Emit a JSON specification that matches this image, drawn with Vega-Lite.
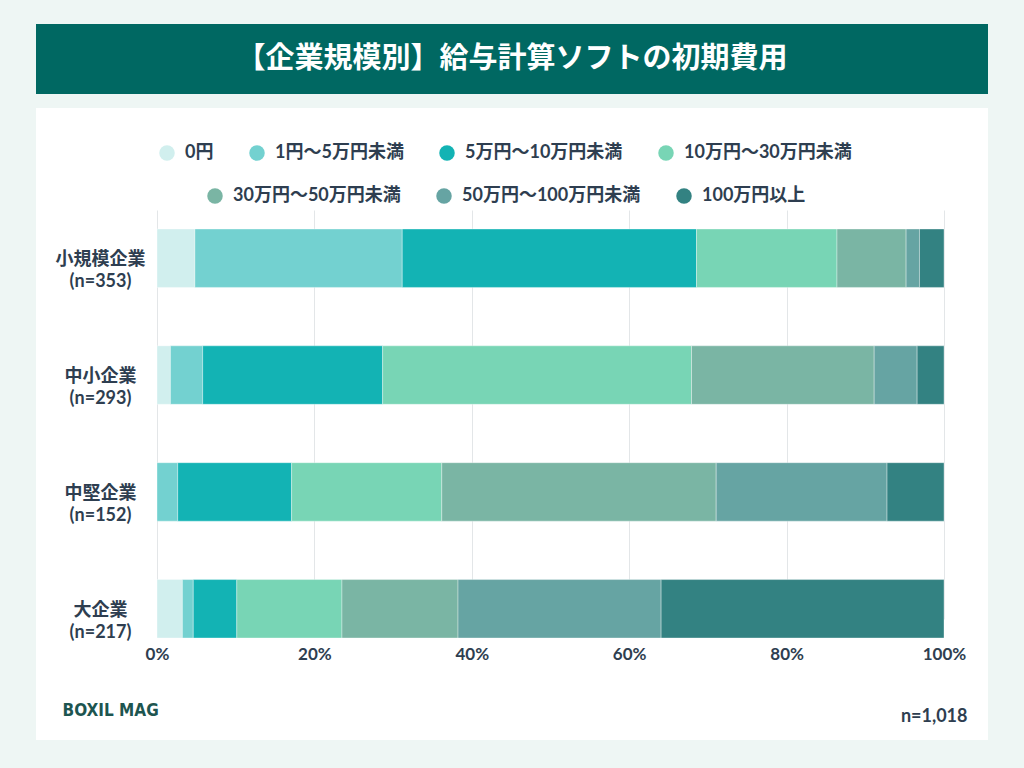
{
  "$schema": "https://vega.github.io/schema/vega-lite/v6.json",
  "background": "#eef6f4",
  "padding": {"left": 36, "right": 36, "top": 24, "bottom": 28},
  "spacing": 14,
  "config": {
    "view": {"stroke": null},
    "font": "Lato, Noto Sans CJK JP"
  },
  "vconcat": [
    {
      "width": 952,
      "height": 70,
      "view": {"fill": "#006862", "stroke": null},
      "data": {"values": [{"見出し": "【企業規模別】給与計算ソフトの初期費用"}]},
      "mark": {"type": "text", "color": "#ffffff", "fontSize": 29, "fontWeight": "bold", "font": "Noto Sans CJK JP", "align": "center", "baseline": "middle"},
      "encoding": {"text": {"field": "見出し"}}
    },
    {
      "width": 952,
      "height": 632,
      "view": {"fill": "#ffffff", "stroke": null},
      "data": {
        "values": [
          {"企業規模": "小規模企業 (n=353)", "初期費用": "0円", "順序": 1, "回答数": 17},
          {"企業規模": "小規模企業 (n=353)", "初期費用": "1円～5万円未満", "順序": 2, "回答数": 93},
          {"企業規模": "小規模企業 (n=353)", "初期費用": "5万円～10万円未満", "順序": 3, "回答数": 132},
          {"企業規模": "小規模企業 (n=353)", "初期費用": "10万円～30万円未満", "順序": 4, "回答数": 63},
          {"企業規模": "小規模企業 (n=353)", "初期費用": "30万円～50万円未満", "順序": 5, "回答数": 31},
          {"企業規模": "小規模企業 (n=353)", "初期費用": "50万円～100万円未満", "順序": 6, "回答数": 6},
          {"企業規模": "小規模企業 (n=353)", "初期費用": "100万円以上", "順序": 7, "回答数": 11},
          {"企業規模": "中小企業 (n=293)", "初期費用": "0円", "順序": 1, "回答数": 5},
          {"企業規模": "中小企業 (n=293)", "初期費用": "1円～5万円未満", "順序": 2, "回答数": 12},
          {"企業規模": "中小企業 (n=293)", "初期費用": "5万円～10万円未満", "順序": 3, "回答数": 67},
          {"企業規模": "中小企業 (n=293)", "初期費用": "10万円～30万円未満", "順序": 4, "回答数": 115},
          {"企業規模": "中小企業 (n=293)", "初期費用": "30万円～50万円未満", "順序": 5, "回答数": 68},
          {"企業規模": "中小企業 (n=293)", "初期費用": "50万円～100万円未満", "順序": 6, "回答数": 16},
          {"企業規模": "中小企業 (n=293)", "初期費用": "100万円以上", "順序": 7, "回答数": 10},
          {"企業規模": "中堅企業 (n=152)", "初期費用": "0円", "順序": 1, "回答数": 0},
          {"企業規模": "中堅企業 (n=152)", "初期費用": "1円～5万円未満", "順序": 2, "回答数": 4},
          {"企業規模": "中堅企業 (n=152)", "初期費用": "5万円～10万円未満", "順序": 3, "回答数": 22},
          {"企業規模": "中堅企業 (n=152)", "初期費用": "10万円～30万円未満", "順序": 4, "回答数": 29},
          {"企業規模": "中堅企業 (n=152)", "初期費用": "30万円～50万円未満", "順序": 5, "回答数": 53},
          {"企業規模": "中堅企業 (n=152)", "初期費用": "50万円～100万円未満", "順序": 6, "回答数": 33},
          {"企業規模": "中堅企業 (n=152)", "初期費用": "100万円以上", "順序": 7, "回答数": 11},
          {"企業規模": "大企業 (n=217)", "初期費用": "0円", "順序": 1, "回答数": 7},
          {"企業規模": "大企業 (n=217)", "初期費用": "1円～5万円未満", "順序": 2, "回答数": 3},
          {"企業規模": "大企業 (n=217)", "初期費用": "5万円～10万円未満", "順序": 3, "回答数": 12},
          {"企業規模": "大企業 (n=217)", "初期費用": "10万円～30万円未満", "順序": 4, "回答数": 29},
          {"企業規模": "大企業 (n=217)", "初期費用": "30万円～50万円未満", "順序": 5, "回答数": 32},
          {"企業規模": "大企業 (n=217)", "初期費用": "50万円～100万円未満", "順序": 6, "回答数": 56},
          {"企業規模": "大企業 (n=217)", "初期費用": "100万円以上", "順序": 7, "回答数": 78}
        ]
      },
      "transform": [
        {"stack": "回答数", "groupby": ["企業規模"], "sort": [{"field": "順序"}], "offset": "normalize", "as": ["x0", "x1"]}
      ],
      "encoding": {
        "x": {
          "field": "x0",
          "type": "quantitative",
          "scale": {"domain": [0, 1], "range": [121, 908], "nice": false, "zero": true},
          "axis": {
            "orient": "bottom",
            "offset": -102,
            "format": ".0%",
            "values": [0, 0.2, 0.4, 0.6, 0.8, 1],
            "labelFlush": false,
            "ticks": false,
            "domain": false,
            "grid": true,
            "gridColor": "#e3e6e8",
            "gridWidth": 1,
            "labelPadding": 8,
            "labelFontSize": 17,
            "labelFontWeight": "bold",
            "labelColor": "#2e3e50",
            "title": "n=1,018",
            "titleFontSize": 18,
            "titleFontWeight": "bold",
            "titleColor": "#2e3e50",
            "titleAlign": "right",
            "titleBaseline": "middle",
            "titleAnchor": null,
            "titleX": 931,
            "titleY": 78
          }
        },
        "x2": {"field": "x1"},
        "y": {
          "field": "企業規模",
          "type": "nominal",
          "sort": ["小規模企業 (n=353)", "中小企業 (n=293)", "中堅企業 (n=152)", "大企業 (n=217)"],
          "scale": {"range": [121, 530], "paddingInner": 0.5, "paddingOuter": 0},
          "axis": {
            "orient": "left",
            "offset": -64,
            "labelPadding": 0,
            "ticks": false,
            "domain": false,
            "grid": false,
            "labelAlign": "center",
            "labelBaseline": "middle",
            "labelOffset": 2,
            "labelLineHeight": 22,
            "labelFontSize": 18,
            "labelFontWeight": "bold",
            "labelColor": "#2e3e50",
            "labelExpr": "split(datum.label, ' ')",
            "title": "BOXIL MAG",
            "titleAngle": 0,
            "titleAlign": "left",
            "titleBaseline": "middle",
            "titleFont": "DejaVu Sans Condensed",
            "titleFontSize": 17,
            "titleFontWeight": "bold",
            "titleColor": "#1d5550",
            "titleAnchor": null,
            "titleX": -38,
            "titleY": 602
          }
        }
      },
      "layer": [
        {
          "transform": [{"filter": "datum['順序'] <= 4"}],
          "mark": {"type": "bar", "stroke": "#ffffff", "strokeWidth": 1, "strokeOpacity": 0.35},
          "encoding": {
            "color": {
              "field": "初期費用",
              "type": "nominal",
              "scale": {
                "domain": ["0円", "1円～5万円未満", "5万円～10万円未満", "10万円～30万円未満"],
                "range": ["#d1efee", "#73d1d0", "#13b3b4", "#78d5b5"]
              },
              "legend": {
                "title": null,
                "orient": "none",
                "direction": "horizontal",
                "legendX": 122,
                "legendY": 36,
                "symbolType": "circle",
                "symbolSize": 240,
                "symbolStrokeWidth": 0,
                "labelOffset": 9,
                "labelLimit": 400,
                "columnPadding": 34,
                "labelFontSize": 18,
                "labelFontWeight": "bold",
                "labelColor": "#2e3e50"
              }
            }
          }
        },
        {
          "transform": [{"filter": "datum['順序'] >= 5"}],
          "mark": {"type": "bar", "stroke": "#ffffff", "strokeWidth": 1, "strokeOpacity": 0.35},
          "encoding": {
            "color": {
              "field": "初期費用",
              "type": "nominal",
              "scale": {
                "domain": ["30万円～50万円未満", "50万円～100万円未満", "100万円以上"],
                "range": ["#7ab5a4", "#66a4a3", "#338282"]
              },
              "legend": {
                "title": null,
                "orient": "none",
                "direction": "horizontal",
                "legendX": 170,
                "legendY": 79,
                "symbolType": "circle",
                "symbolSize": 240,
                "symbolStrokeWidth": 0,
                "labelOffset": 9,
                "labelLimit": 400,
                "columnPadding": 34,
                "labelFontSize": 18,
                "labelFontWeight": "bold",
                "labelColor": "#2e3e50"
              }
            }
          }
        }
      ],
      "resolve": {"scale": {"color": "independent"}}
    }
  ]
}
